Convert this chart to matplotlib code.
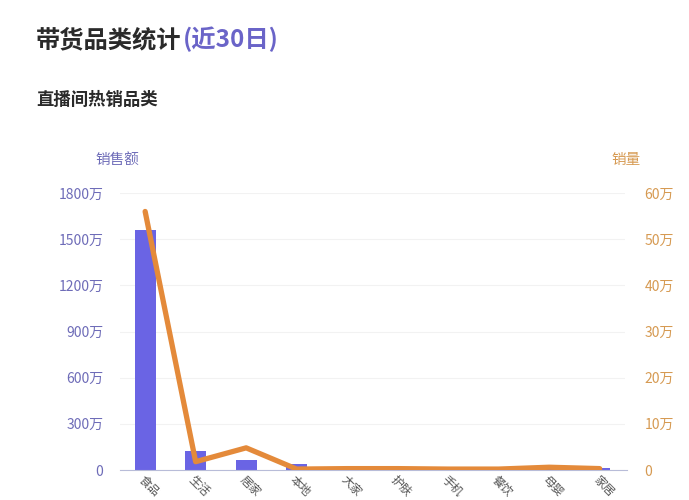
import numpy as np
import matplotlib
matplotlib.use('Agg')
import matplotlib.pyplot as plt

plt.rcParams['font.family'] = ['Noto Sans CJK SC', 'DejaVu Sans']

# 数据（单位：万）
categories = ['食品', '生活', '居家', '本地', '大家',
              '护肤', '手机', '餐饮', '母婴', '家居']
sales_amount = [1560, 125, 65, 37, 4, 3, 3, 3, 5, 15]        # 销售额 [万]
sales_volume = [56.0, 1.8, 4.8, 0.2, 0.3, 0.3, 0.2, 0.2, 0.6, 0.3]  # 销量 [万]
left_ticks = [0, 300, 600, 900, 1200, 1500, 1800]
right_ticks = [0, 10, 20, 30, 40, 50, 60]

BAR_C = '#6a64e4'
LINE_C = '#e48a3a'
LEFT_TXT = '#6e6cb8'
RIGHT_TXT = '#d69a52'

fig = plt.figure(figsize=(6.89, 5.0), dpi=100)
ax = fig.add_axes([0.174, 0.06, 0.733, 0.554])
ax2 = ax.twinx()

x = np.arange(len(categories))
ax.bar(x, sales_amount, width=0.42, color=BAR_C, zorder=2)
ax2.plot(x, sales_volume, color=LINE_C, lw=3.8, solid_capstyle='round',
         solid_joinstyle='round', zorder=3)

ax.set_xlim(-0.5, len(categories) - 0.5)
ax.set_ylim(0, 1800)
ax2.set_ylim(0, 60)
ax.set_yticks(left_ticks)
ax.set_yticklabels([f'{v}万' if v else '0' for v in left_ticks])
ax2.set_yticks(right_ticks)
ax2.set_yticklabels([f'{v}万' if v else '0' for v in right_ticks])

ax.grid(axis='y', color='#f2f2f2', lw=0.8, zorder=0)
for a in (ax, ax2):
    for s in a.spines.values():
        s.set_visible(False)
ax.spines['bottom'].set_visible(True)
ax.spines['bottom'].set_color('#b8bcd8')
ax.spines['bottom'].set_bounds(-0.5, len(categories) - 0.45)

ax.tick_params(axis='y', length=0, pad=12, labelsize=10, labelcolor=LEFT_TXT)
ax2.tick_params(axis='y', length=0, pad=14, labelsize=10, labelcolor=RIGHT_TXT)
ax.set_xticks(x)
ax.set_xticklabels(categories, rotation=-45, ha='left', va='top',
                   rotation_mode='anchor', fontsize=8.5, color='#555555')
ax.tick_params(axis='x', length=0, pad=2)

fig.text(0.138, 0.672, '销售额', color=LEFT_TXT, fontsize=10.5)
fig.text(0.888, 0.672, '销量', color=RIGHT_TXT, fontsize=10.5)

# 标题：黑色主标题 + 紫色括号部分紧跟其后
t1 = fig.text(0.052, 0.905, '带货品类统计', fontsize=17.5, fontweight='bold', color='#2a2a2a')
fig.canvas.draw()
bb = t1.get_window_extent().transformed(fig.transFigure.inverted())
fig.text(bb.x1 + 0.002, 0.905, '(近30日)', fontsize=17.5, fontweight='bold', color='#6a64c8')
fig.text(0.052, 0.79, '直播间热销品类', fontsize=12.5, fontweight='bold', color='#2a2a2a')

fig.savefig('out.png', dpi=100)
